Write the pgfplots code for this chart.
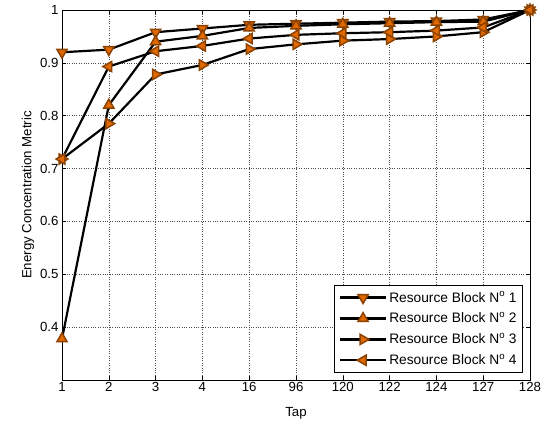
\documentclass[border=0pt]{standalone}
\usepackage{fontspec}
\setmainfont{Liberation Sans}
\usepackage{pgfplots}
\pgfplotsset{compat=1.18}
\definecolor{mkedge}{RGB}{140,66,0}
\definecolor{mkfill}{RGB}{225,105,0}
\pgfplotsset{mk/.style={mark=triangle*, mark size=5.9pt,
    mark options={draw=mkedge, fill=mkfill, line width=1.5pt, solid, rotate=#1}}}

\begin{document}
\begin{tikzpicture}[x=1bp,y=1bp]
\begin{axis}[
    scale only axis,
    width=468bp,
    height=370bp,
    xmin=0, xmax=10,
    ymin=0.3, ymax=1,
    xtick={0,...,10},
    xticklabels={1,2,3,4,16,96,120,122,124,127,128},
    ytick={0.4,0.5,0.6,0.7,0.8,0.9,1},
    yticklabels={0.4,0.5,0.6,0.7,0.8,0.9,1},
    tick align=inside,
    tick pos=both,
    major tick length=4bp,
    grid=major,
    major grid style={dotted, draw=black!70, line width=0.5pt},
    axis line style={line width=0.9pt},
    tick style={black, line width=0.5pt},
    ticklabel style={font=\fontsize{13.3}{14}\selectfont},
    xticklabel style={yshift=1bp},
    xlabel={Tap},
    ylabel={Energy Concentration Metric},
    label style={font=\fontsize{13.3}{14}\selectfont},
    xlabel style={yshift=-9bp},
    ylabel style={yshift=-1bp},
    legend style={at={(rel axis cs:0.985,0.02)}, anchor=south east,
        font=\fontsize{13.8}{15}\selectfont, draw=black, line width=0.8pt,
        row sep=5bp, inner xsep=4bp, inner ysep=4bp},
    legend cell align=left,
    legend image code/.code={\draw[line width=2.4pt, mark repeat=2, mark phase=2]
        plot coordinates {(0bp,0bp) (23bp,0bp) (46bp,0bp)};},
    every axis plot/.append style={black, line width=2.2pt},
    clip=false,
]
\addplot[mk=180] coordinates {
(0,0.920) (1,0.925) (2,0.958) (3,0.965) (4,0.972) (5,0.974)
(6,0.976) (7,0.978) (8,0.979) (9,0.982) (10,1.000)};
\addlegendentry{Resource Block N\textsuperscript{o} 1}

\addplot[mk=0] coordinates {
(0,0.378) (1,0.820) (2,0.940) (3,0.951) (4,0.966) (5,0.970)
(6,0.973) (7,0.975) (8,0.977) (9,0.978) (10,1.000)};
\addlegendentry{Resource Block N\textsuperscript{o} 2}

\addplot[mk=-90] coordinates {
(0,0.718) (1,0.785) (2,0.878) (3,0.896) (4,0.926) (5,0.935)
(6,0.942) (7,0.945) (8,0.950) (9,0.958) (10,1.000)};
\addlegendentry{Resource Block N\textsuperscript{o} 3}

\addplot[mk=90] coordinates {
(0,0.718) (1,0.893) (2,0.922) (3,0.932) (4,0.946) (5,0.953)
(6,0.956) (7,0.958) (8,0.961) (9,0.967) (10,1.000)};
\addlegendentry{Resource Block N\textsuperscript{o} 4}

\path (rel axis cs:-0.1325,-0.1162) rectangle (rel axis cs:1.0598,1.027);
\end{axis}
\end{tikzpicture}
\end{document}
